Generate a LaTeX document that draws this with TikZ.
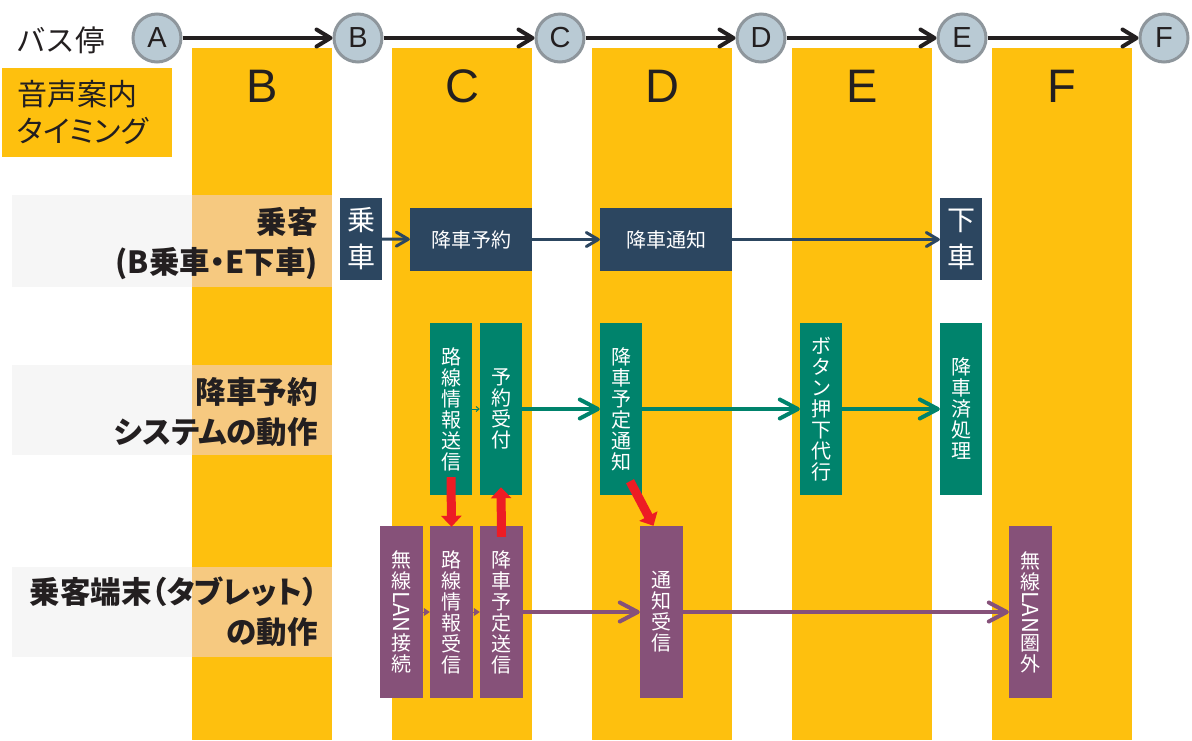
\documentclass[tikz,border=0pt]{standalone}
\usepackage{fontspec}
\usepackage{graphicx}
\setmainfont{Noto Sans CJK JP}[RawFeature=+palt]
\newfontfamily\jpfull{Noto Sans CJK JP}
\newfontfamily\lat{Liberation Sans}
\usetikzlibrary{arrows.meta}
\definecolor{cY}{RGB}{254,192,14}
\definecolor{cNavy}{RGB}{44,70,96}
\definecolor{cTeal}{RGB}{0,131,108}
\definecolor{cPurp}{RGB}{134,81,121}
\definecolor{cRed}{RGB}{237,28,36}
\definecolor{cStop}{RGB}{185,202,212}
\definecolor{cStopB}{RGB}{142,150,156}
\definecolor{cInk}{RGB}{35,31,32}
\definecolor{cBandG}{RGB}{246,246,246}
\definecolor{cBandP}{RGB}{246,201,128}
\begin{document}
\begin{tikzpicture}[x=1pt,y=-1pt,
  stop/.style={circle,draw=cStopB,line width=3pt,fill=cStop,minimum size=48pt,inner sep=0pt,
    font=\lat\fontsize{29}{29}\selectfont,text=cInk},
  busarrow/.style={draw=cInk,line width=4pt,-{Straight Barb[length=14pt,width=17pt,round]}},
  collabel/.style={font=\lat\fontsize{47}{47}\selectfont,text=cInk,inner sep=0pt},
  rowlabel/.style={anchor=east,align=right,inner sep=0pt,font=\bfseries\fontsize{30.5}{40}\selectfont,text=cInk},
  box/.style={inner sep=0pt,text=white,align=center},
  vbox/.style={box,minimum width=42pt,minimum height=172pt,font=\fontsize{20}{21}\selectfont},
  hbox/.style={box,minimum height=63pt,font=\fontsize{20}{24}\selectfont},
  tallbox/.style={box,minimum width=42pt,minimum height=82pt,font=\fontsize{28}{37}\selectfont},
  navyarrow/.style={draw=cNavy,line width=3pt,-{Straight Barb[length=12pt,width=14pt,round]}},
  tealarrow/.style={draw=cTeal,line width=4pt,-{Straight Barb[length=18pt,width=19pt,round]}},
  purparrow/.style={draw=cPurp,line width=4pt,-{Straight Barb[length=18pt,width=19pt,round]}},
  tinyteal/.style={draw=cTeal,line width=1pt,-{Straight Barb[length=3pt,width=5pt]}},
  tinypurp/.style={draw=cPurp,line width=1pt,-{Triangle[length=6pt,width=8pt]}},
  redarrow/.style={draw=cRed,line width=9pt,-{Triangle[length=11pt,width=20pt]}}]
\useasboundingbox (0,0) rectangle (1192,740);
% timing columns
\foreach \x in {192,392,592,792,992}
  \fill[cY] (\x,48) rectangle (\x+140,740);
% row bands
\foreach \a/\b in {195/287,365/455,567/657}{
  \fill[cBandG] (12,\a) rectangle (192,\b);
  \fill[cBandP] (192,\a) rectangle (332,\b);
}
% bus stops
\node (bus) [anchor=west,inner sep=0pt,font=\jpfull\fontsize{29.5}{29.5}\selectfont,text=cInk] at (16,40) {バス停};
\node[stop] (stA) at (157,38) {A};
\node[stop] (stB) at (358,38) {B};
\node[stop] (stC) at (560,38) {C};
\node[stop] (stD) at (761,38) {D};
\node[stop] (stE) at (962,38) {E};
\node[stop] (stF) at (1164,38) {F};
\draw[busarrow] (stA) -- (stB);
\draw[busarrow] (stB) -- (stC);
\draw[busarrow] (stC) -- (stD);
\draw[busarrow] (stD) -- (stE);
\draw[busarrow] (stE) -- (stF);
% timing box
\node (timing) [fill=cY,inner sep=0pt,minimum width=170pt,minimum height=89pt,text width=140pt,align=left,
  font=\fontsize{30}{37}\selectfont,text=cInk] at (87,112.5) {音声案内\\タイミング};
% column letters
\node[collabel] (cB) at (262,86) {B};
\node[collabel] (cC) at (462,86) {C};
\node[collabel] (cD) at (662,86) {D};
\node[collabel] (cE) at (862,86) {E};
\node[collabel] (cF) at (1062,86) {F};
% row labels
\node[rowlabel] (r1) at (318,244) {乗客\\(B乗車・E下車)};
\node[rowlabel] (r2) at (318,412) {降車予約\\システムの動作};
\node[rowlabel] (r3) at (318,612) {乗客端末（タブレット）\\の動作};
% passenger row
\node[tallbox,fill=cNavy] (jousha) at (361,239) {乗\\車};
\node[hbox,fill=cNavy,minimum width=122pt] (yoyaku) at (471,239.5) {降車予約};
\node[hbox,fill=cNavy,minimum width=132pt] (tsuchi) at (666,239.5) {降車通知};
\node[tallbox,fill=cNavy] (gesha) at (961,239) {下\\車};
\draw[navyarrow] (jousha) -- (yoyaku);
\draw[navyarrow] (yoyaku) -- (tsuchi);
\draw[navyarrow] (tsuchi) -- (gesha.west |- tsuchi.east);
% system row
\node[vbox,fill=cTeal] (rsend) at (451,409) {路\\線\\情\\報\\送\\信};
\node[vbox,fill=cTeal] (uketsuke) at (501,409) {予\\約\\受\\付};
\node[vbox,fill=cTeal] (ytsuchi) at (621,409) {降\\車\\予\\定\\通\\知};
\node[vbox,fill=cTeal] (button) at (821,409) {ボ\\タ\\ン\\押\\下\\代\\行};
\node[vbox,fill=cTeal] (sumi) at (961,409) {降\\車\\済\\処\\理};
\draw[tinyteal] (rsend) -- (uketsuke);
\draw[tealarrow] (uketsuke) -- (ytsuchi);
\draw[tealarrow] (ytsuchi) -- (button);
\draw[tealarrow] (button) -- (sumi);
% tablet row
\node[vbox,fill=cPurp,minimum width=43pt] (lan) at (401.5,612) {無\\線\\\rotatebox[origin=c]{-90}{\fontsize{22}{22}\selectfont LAN}\\接\\続};
\node[vbox,fill=cPurp,minimum width=43pt] (rrecv) at (451.5,612) {路\\線\\情\\報\\受\\信};
\node[vbox,fill=cPurp,minimum width=43pt] (ysend) at (501.5,612) {降\\車\\予\\定\\送\\信};
\node[vbox,fill=cPurp,minimum width=43pt] (recv) at (661.5,612) {通\\知\\受\\信};
\node[vbox,fill=cPurp,minimum width=43pt] (outside) at (1030.5,612) {無\\線\\\rotatebox[origin=c]{-90}{\fontsize{22}{22}\selectfont LAN}\\圏\\外};
\draw[tinypurp] (lan) -- (rrecv);
\draw[tinypurp] (rrecv) -- (ysend);
\draw[purparrow] (ysend) -- (recv);
\draw[purparrow] (recv) -- (outside);
% red links
\draw[redarrow] ([yshift=18pt]rsend.south) -- ([yshift=-1pt]rrecv.north);
\draw[redarrow] ([yshift=-11pt]ysend.north) -- ([yshift=8pt]uketsuke.south);
\draw[redarrow] ([xshift=9pt,yshift=14pt]ytsuchi.south) -- ([xshift=-8pt]recv.north);
\end{tikzpicture}
\end{document}
